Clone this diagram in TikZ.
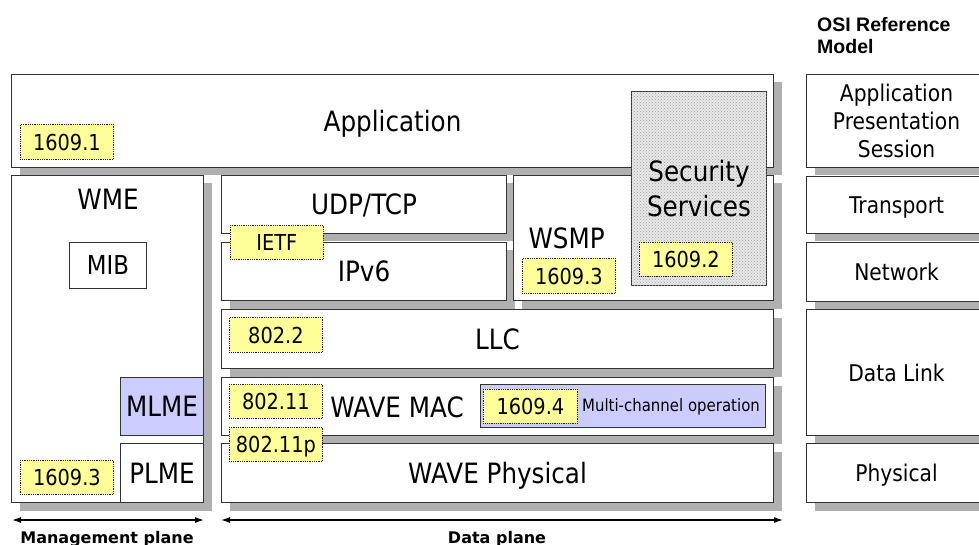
\documentclass[tikz,border=0pt]{standalone}
\usepackage{fontspec}
\setmainfont{DejaVu Sans}[FakeStretch=0.88]
\newfontfamily\planefont{DejaVu Sans}
\newfontfamily\osifont{Liberation Sans}
\usetikzlibrary{shadows,patterns,arrows.meta}

\definecolor{tagyellow}{RGB}{255,255,153}
\definecolor{mgmtblue}{RGB}{204,204,255}
\definecolor{shadowgray}{RGB}{176,176,176}

\tikzset{
  box/.style     = {shape=rectangle, draw=black!80, fill=white,
                    line width=1pt, inner sep=0pt, anchor=north west,
                    text depth=0pt, align=center,
                    font=\fontsize{28}{35}\selectfont},
  layer/.style   = {box, drop shadow={shadow xshift=8pt, shadow yshift=-8pt,
                    fill=shadowgray, opacity=1}},
  osi/.style     = {layer, font=\fontsize{23}{28}\selectfont},
  mgmt/.style    = {box, fill=mgmtblue},
  secure/.style  = {box, fill=gray!18,
                    postaction={pattern=crosshatch dots, pattern color=gray!75}},
  tag/.style     = {shape=rectangle, draw=black!85, densely dotted,
                    line width=0.8pt, fill=tagyellow, inner sep=0pt,
                    anchor=north west, minimum width=93, minimum height=35,
                    text depth=0pt, font=\fontsize{22}{26}\selectfont},
  caption/.style = {anchor=base, font=\fontsize{28}{35}\selectfont},
  plane/.style   = {anchor=base, font=\planefont\bfseries\fontsize{16}{18}\selectfont},
  span/.style    = {{Latex[length=9pt,width=6pt]}-{Latex[length=9pt,width=6pt]},
                    line width=1.2pt}
}

\begin{document}
\begin{tikzpicture}[x=1pt, y=-1pt]
\clip (0,0) rectangle (979,545);

% application layer
\node[layer, minimum width=762, minimum height=93] (app) at (11,74) {Application};
\node[tag] (t1) at (20,124) {1609.1};

% management plane
\node[layer, minimum width=192, minimum height=327] (wme) at (11,175) {};
\node[caption] (wmetext) at (108,210) {WME};
\node[box, minimum width=77, minimum height=46,
      font=\fontsize{26}{30}\selectfont] (mib) at (69,242) {MIB};
\node[mgmt, minimum width=83, minimum height=58] (mlme) at (120,377) {MLME};
\node[box, minimum width=83, minimum height=59] (plme) at (120,443) {PLME};
\node[tag, minimum height=34] (t3m) at (20,460) {1609.3};

% data plane
\node[layer, minimum width=285, minimum height=58] (udp) at (221,175) {UDP/TCP};
\node[layer, minimum width=285, minimum height=58] (ipv6) at (221,242) {IPv6};
\node[tag, minimum height=34] (ietf) at (230,225) {IETF};
\node[layer, minimum width=260, minimum height=125] (wsmp) at (513,175) {};
\node[caption, anchor=base west] (wsmptext) at (525,248) {WSMP};
\node[tag] (t3d) at (522,258) {1609.3};
\node[secure, minimum width=135, minimum height=194] (sec) at (631,91)
     {Security\\Services};
\node[tag, minimum height=34] (t2) at (639,242) {1609.2};

\node[layer, minimum width=552, minimum height=59] (llc) at (221,309) {LLC};
\node[tag] (t22) at (229,317) {802.2};

\node[layer, minimum width=552, minimum height=58] (mac) at (221,377) {};
\node[caption] (mactext) at (397,417) {WAVE MAC};
\node[tag, minimum height=34] (t11) at (229,384) {802.11};
\node[mgmt, minimum width=285, minimum height=43] (mco) at (480,384) {};
\node[anchor=base, font=\fontsize{17}{20}\selectfont] (mcotext) at (671,411)
     {Multi-channel operation};
\node[tag, minimum width=94, minimum height=34] (t4) at (483,389) {1609.4};

\node[layer, minimum width=552, minimum height=59] (phy) at (221,443) {WAVE Physical};
\node[tag, minimum height=34] (t11p) at (229,427) {802.11p};

% OSI reference model
\node[anchor=north west, align=left, inner sep=0pt,
      font=\osifont\bfseries\fontsize{19.5}{22}\selectfont]
     (osititle) at (817,17) {OSI Reference\\Model};
\node[osi, minimum width=180, minimum height=93] (osiapp) at (806,74)
     {Application\\Presentation\\Session};
\node[osi, minimum width=180, minimum height=57] (ositrans) at (806,176) {Transport};
\node[osi, minimum width=180, minimum height=59] (osinet) at (806,242) {Network};
\node[osi, minimum width=180, minimum height=126] (osilink) at (806,309) {Data Link};
\node[osi, minimum width=180, minimum height=59] (osiphy) at (806,443) {Physical};

% planes
\coordinate (mgl) at (12,520);
\coordinate (mgr) at (204,520);
\coordinate (dpl) at (221,520);
\coordinate (dpr) at (783,520);
\draw[span] (mgl) -- (mgr);
\draw[span] (dpl) -- (dpr);
\node[plane] (mgtext) at (107,543) {Management plane};
\node[plane] (dptext) at (497,543) {Data plane};
\end{tikzpicture}
\end{document}
